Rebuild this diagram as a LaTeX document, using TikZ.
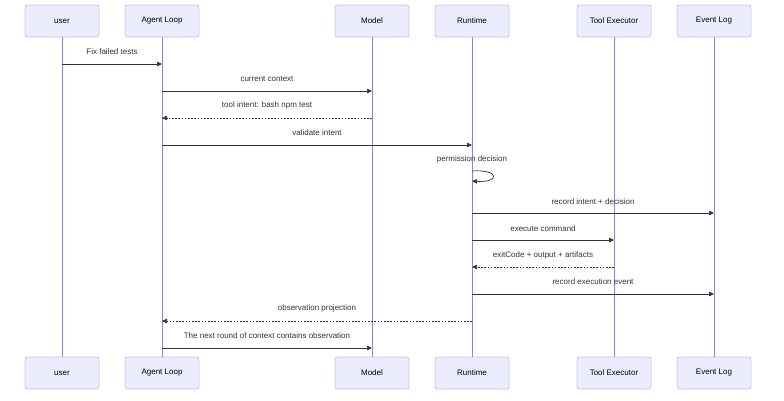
\documentclass[tikz,border=0pt]{standalone}
\usepackage{fontspec}
\setmainfont{Liberation Sans}
\usetikzlibrary{arrows.meta}
\definecolor{actfill}{HTML}{ECECFF}
\definecolor{actdraw}{HTML}{CCC4F0}
\definecolor{lifeln}{HTML}{8E86C8}
\definecolor{msg}{HTML}{333333}
\tikzset{
  actor/.style={draw=actdraw, fill=actfill, line width=0.9pt, rounded corners=2.5pt,
    minimum width=74pt, minimum height=32pt, inner sep=0pt, font=\fontsize{8}{9}\selectfont, text=black},
  lifeline/.style={draw=lifeln, line width=0.8pt},
  msgline/.style={draw=msg, line width=0.7pt, -{Triangle[length=5pt,width=4.5pt]}},
  retline/.style={msgline, dash pattern=on 1.6pt off 1.6pt},
  lbl/.style={font=\fontsize{8}{9}\selectfont, text=msg, inner sep=0pt}
}
\begin{document}
\begin{tikzpicture}[x=1pt,y=-1pt]
\useasboundingbox (0,0) rectangle (784,400);
% actors (top)
\node[actor] (uT) at (62,21) {user};
\node[actor] (aT) at (162,21) {Agent Loop};
\node[actor] (mT) at (372,21) {Model};
\node[actor] (rT) at (472,21) {Runtime};
\node[actor] (tT) at (614,21) {Tool Executor};
\node[actor] (eT) at (714,21) {Event Log};
% actors (bottom)
\node[actor] (uB) at (62,373) {user};
\node[actor] (aB) at (162,373) {Agent Loop};
\node[actor] (mB) at (372,373) {Model};
\node[actor] (rB) at (472,373) {Runtime};
\node[actor] (tB) at (614,373) {Tool Executor};
\node[actor] (eB) at (714,373) {Event Log};
% lifelines
\foreach \a in {u,a,m,r,t,e}{
  \draw[lifeline] (\a T.south) -- (\a B.north);
}
% message endpoints
\coordinate (u1) at (62,64);  \coordinate (a1) at (162,64);
\coordinate (a2) at (162,91); \coordinate (m2) at (372,91);
\coordinate (m3) at (372,118); \coordinate (a3) at (162,118);
\coordinate (a4) at (162,145); \coordinate (r4) at (472,145);
\coordinate (r5a) at (472,171); \coordinate (r5b) at (472,181);
\coordinate (r6) at (472,213); \coordinate (e6) at (714,213);
\coordinate (r7) at (472,240); \coordinate (t7) at (614,240);
\coordinate (t8) at (614,267); \coordinate (r8) at (472,267);
\coordinate (r9) at (472,294); \coordinate (e9) at (714,294);
\coordinate (r10) at (472,321); \coordinate (a10) at (162,321);
\coordinate (a11) at (162,348); \coordinate (m11) at (372,348);
% messages
\draw[msgline] (u1) -- (a1);
\node[lbl] (l1) at (112,52) {Fix failed tests};
\draw[msgline] (a2) -- (m2);
\node[lbl] (l2) at (267,79) {current context};
\draw[retline] (m3) -- (a3);
\node[lbl] (l3) at (267,105.5) {tool intent: bash npm test};
\draw[msgline] (a4) -- (r4);
\node[lbl] (l4) at (317,132.5) {validate intent};
\node[lbl] (l5) at (472,159.5) {permission decision};
\draw[msgline] (r5a) .. controls (500,169) and (500,183) .. (r5b);
\draw[msgline] (r6) -- (e6);
\node[lbl] (l6) at (593,201.5) {record intent + decision};
\draw[msgline] (r7) -- (t7);
\node[lbl] (l7) at (543,228.5) {execute command};
\draw[retline] (t8) -- (r8);
\node[lbl] (l8) at (543,255.5) {exitCode + output + artifacts};
\draw[msgline] (r9) -- (e9);
\node[lbl] (l9) at (593,281.5) {record execution event};
\draw[retline] (r10) -- (a10);
\node[lbl] (l10) at (317,308.5) {observation projection};
\draw[msgline] (a11) -- (m11);
\node[lbl] (l11) at (267,335.5) {The next round of context contains observation};
\end{tikzpicture}
\end{document}
